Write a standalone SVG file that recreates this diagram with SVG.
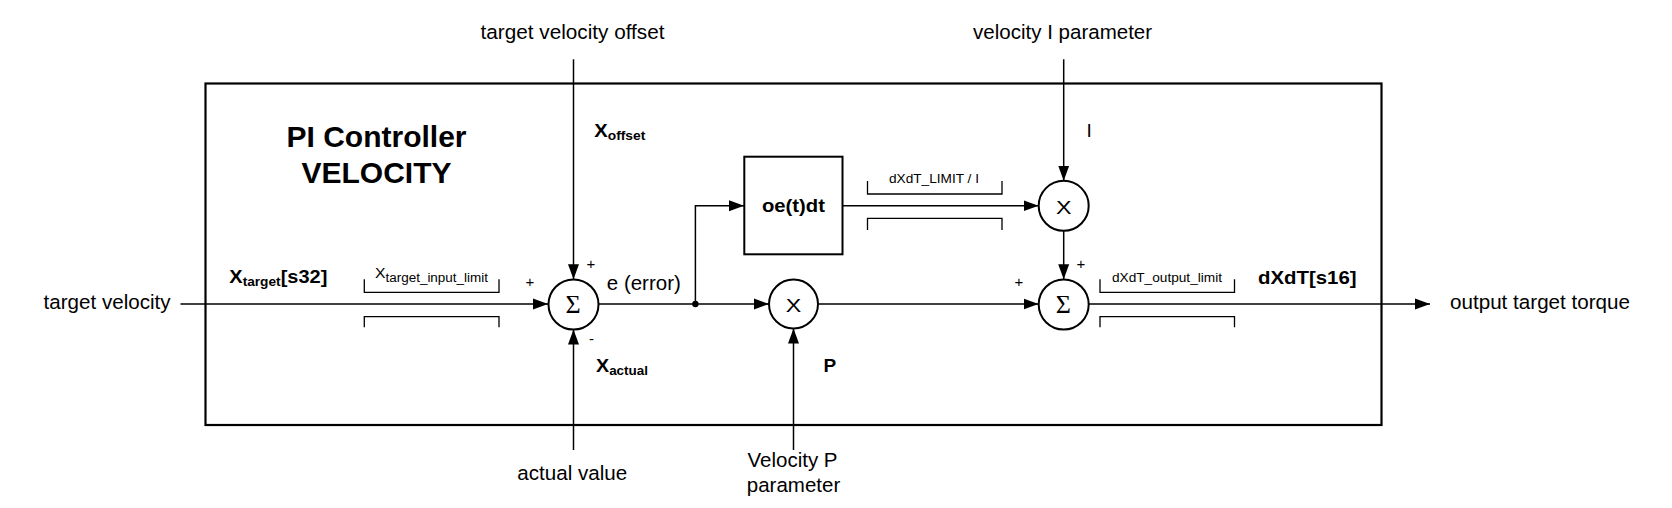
<svg xmlns="http://www.w3.org/2000/svg" width="1672" height="508" viewBox="0 0 1672 508">
<style>
  text { font-family: "Liberation Sans", Arial, sans-serif; fill: #000; }
  .lbl { font-size: 20.5px; }
  .b { font-weight: bold; }
  .sgn { font-size: 15px; }
  .lim { font-size: 13px; }
  .sig { font-family: "Liberation Serif", "Times New Roman", serif; font-size: 26px; }
  .mul { font-size: 19px; }
  .ln { stroke: #000; stroke-width: 1.5; fill: none; }
  .br { stroke: #000; stroke-width: 1.3; fill: none; }
  .node { stroke: #000; stroke-width: 2; fill: #fff; }
  .frame { stroke: #000; stroke-width: 2.2; fill: none; }
</style>
<defs>
  <marker id="ah" markerUnits="userSpaceOnUse" markerWidth="16" markerHeight="12" refX="15" refY="6" orient="auto">
    <path d="M0,0.5 L15,6 L0,11.5 z" fill="#000"/>
  </marker>
</defs>
<rect width="1672" height="508" fill="#fff"/>

<g id="controller-frame">
  <rect class="frame" x="205.5" y="83.5" width="1176" height="341.5"/>
  <text class="b" x="376.5" y="146.7" font-size="30" text-anchor="middle">PI Controller</text>
  <text class="b" x="376.5" y="183.3" font-size="30" text-anchor="middle">VELOCITY</text>
</g>

<g id="connectors">
  <line class="ln" x1="180.5" y1="304" x2="548" y2="304" marker-end="url(#ah)"/>
  <line class="ln" x1="573.5" y1="59.3" x2="573.5" y2="279.3" marker-end="url(#ah)"/>
  <line class="ln" x1="573.5" y1="450" x2="573.5" y2="329.5" marker-end="url(#ah)"/>
  <line class="ln" x1="598.5" y1="304" x2="769" y2="304" marker-end="url(#ah)"/>
  <polyline class="ln" points="695.4,304 695.4,205.7 744,205.7" marker-end="url(#ah)"/>
  <circle cx="695.4" cy="304" r="3.2" fill="#000"/>
  <line class="ln" x1="793.5" y1="450" x2="793.5" y2="328.5" marker-end="url(#ah)"/>
  <line class="ln" x1="842.5" y1="205.7" x2="1038.5" y2="205.7" marker-end="url(#ah)"/>
  <line class="ln" x1="1063.7" y1="59.3" x2="1063.7" y2="180.7" marker-end="url(#ah)"/>
  <line class="ln" x1="1063.7" y1="231" x2="1063.7" y2="279.3" marker-end="url(#ah)"/>
  <line class="ln" x1="818" y1="304" x2="1038.5" y2="304" marker-end="url(#ah)"/>
  <line class="ln" x1="1089" y1="304" x2="1430" y2="304" marker-end="url(#ah)"/>
</g>

<g id="limit-input">
  <polyline class="br" points="364.3,279.3 364.3,292.3 499,292.3 499,279.3"/>
  <polyline class="br" points="364.3,327.3 364.3,316.7 499,316.7 499,327.3"/>
  <text x="375" y="278" font-size="14" textLength="113" lengthAdjust="spacingAndGlyphs">X<tspan font-size="12" dy="4">target_input_limit</tspan></text>
</g>

<g id="limit-integrator">
  <polyline class="br" points="867.5,181 867.5,194 1002,194 1002,181"/>
  <polyline class="br" points="867.5,230 867.5,218.3 1002,218.3 1002,230"/>
  <text class="lim" x="934" y="182.7" text-anchor="middle" textLength="90" lengthAdjust="spacingAndGlyphs">dXdT_LIMIT / I</text>
</g>

<g id="limit-output">
  <polyline class="br" points="1100,279.3 1100,292.3 1234.5,292.3 1234.5,279.3"/>
  <polyline class="br" points="1100,327.3 1100,316.7 1234.5,316.7 1234.5,327.3"/>
  <text class="lim" x="1112" y="281.7" textLength="110" lengthAdjust="spacingAndGlyphs">dXdT_output_limit</text>
</g>

<g id="sum-error">
  <circle class="node" cx="573.5" cy="304.5" r="25"/>
  <text class="sig" x="573" y="313" text-anchor="middle">Σ</text>
  <text class="sgn" x="530" y="287" text-anchor="middle">+</text>
  <text class="sgn" x="591" y="269" text-anchor="middle">+</text>
  <text class="sgn" x="591.4" y="343.5" text-anchor="middle">-</text>
</g>

<g id="mult-p">
  <circle class="node" cx="793.5" cy="304" r="24.5"/>
  <text class="mul" x="793.5" y="311.5" text-anchor="middle" textLength="15.5" lengthAdjust="spacingAndGlyphs">X</text>
</g>

<g id="integrator">
  <rect class="node" x="744.3" y="156.7" width="98.2" height="97.6"/>
  <text class="b" x="793.4" y="211.5" font-size="19" text-anchor="middle" textLength="63" lengthAdjust="spacingAndGlyphs">oe(t)dt</text>
</g>

<g id="mult-i">
  <circle class="node" cx="1063.7" cy="205.8" r="25"/>
  <text class="mul" x="1063.7" y="213.5" text-anchor="middle" textLength="15.5" lengthAdjust="spacingAndGlyphs">X</text>
</g>

<g id="sum-output">
  <circle class="node" cx="1063.7" cy="304.5" r="25"/>
  <text class="sig" x="1063.3" y="313" text-anchor="middle">Σ</text>
  <text class="sgn" x="1019" y="287" text-anchor="middle">+</text>
  <text class="sgn" x="1081" y="269" text-anchor="middle">+</text>
</g>

<g id="labels">
  <text class="lbl" x="572.5" y="39.3" text-anchor="middle" textLength="184" lengthAdjust="spacingAndGlyphs">target velocity offset</text>
  <text class="lbl" x="1062.6" y="39.3" text-anchor="middle" textLength="179" lengthAdjust="spacingAndGlyphs">velocity I parameter</text>
  <text class="lbl" x="43.6" y="309.3" textLength="127" lengthAdjust="spacingAndGlyphs">target velocity</text>
  <text class="lbl" x="1450" y="309.3" textLength="180" lengthAdjust="spacingAndGlyphs">output target torque</text>
  <text class="lbl" x="572.3" y="480" text-anchor="middle" textLength="110" lengthAdjust="spacingAndGlyphs">actual value</text>
  <text class="lbl" x="792.5" y="466.7" text-anchor="middle">Velocity P</text>
  <text class="lbl" x="793.5" y="491.7" text-anchor="middle">parameter</text>
  <text class="lbl" x="606.8" y="290" textLength="74" lengthAdjust="spacingAndGlyphs">e (error)</text>
  <text class="b" x="229.3" y="283.3" font-size="19" textLength="98" lengthAdjust="spacingAndGlyphs">X<tspan font-size="13" dy="3">target</tspan><tspan dy="-3">[s32]</tspan></text>
  <text class="b" x="594.3" y="136.7" font-size="19" textLength="51" lengthAdjust="spacingAndGlyphs">X<tspan font-size="13" dy="3.3">offset</tspan></text>
  <text class="b" x="596" y="371.7" font-size="19" textLength="52" lengthAdjust="spacingAndGlyphs">X<tspan font-size="13" dy="3.3">actual</tspan></text>
  <text class="b" x="823.6" y="371.7" font-size="19">P</text>
  <text x="1086.5" y="136.7" font-size="19">I</text>
  <text class="b" x="1258" y="284.3" font-size="19" textLength="98.6" lengthAdjust="spacingAndGlyphs">dXdT[s16]</text>
</g>
</svg>
